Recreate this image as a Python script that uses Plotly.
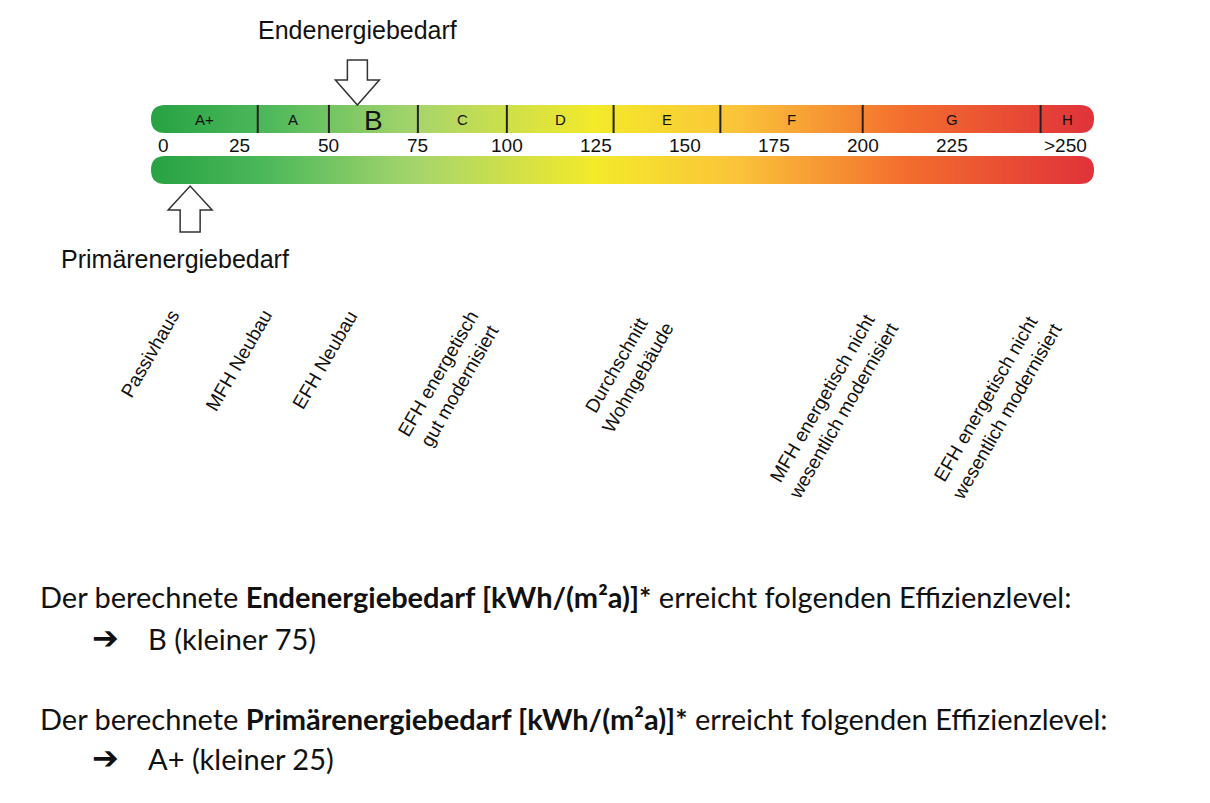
import plotly.graph_objs as go

# Effizienzklassen (Grenzen in kWh/(m²a))
klassen = ['A+', 'A', 'B', 'C', 'D', 'E', 'F', 'G', 'H']
grenzen = [0, 30, 50, 75, 100, 130, 160, 200, 250, 265]

tick_werte = [0, 25, 50, 75, 100, 125, 150, 175, 200, 225, 250]
tick_texte = ['0', '25', '50', '75', '100', '125', '150', '175', '200', '225', '>250']

gebaeude = ['Passivhaus', 'MFH Neubau', 'EFH Neubau', 'EFH energetisch<br>gut modernisiert',
            'Durchschnitt<br>Wohngebäude', 'MFH energetisch nicht<br>wesentlich modernisiert',
            'EFH energetisch nicht<br>wesentlich modernisiert']
gebaeude_x = [10, 36, 60, 100, 149, 212, 258]

endenergie = 58
primaerenergie = 11

W, H = 1210, 803
X0, X1 = 143, 1086
PX = (X1 - X0) / 265.0

farbskala = [[0.0, '#27a243'], [0.12, '#4cb85a'], [0.28, '#a6d46c'], [0.47, '#f3ea2a'],
             [0.62, '#fbc43a'], [0.8, '#f36d2e'], [1.0, '#e0323a']]

xs = [i * 0.5 for i in range(0, 531)]
balken = [(97, 125), (148, 176)]

fig = go.Figure()
for y0, y1 in balken:
    fig.add_trace(go.Heatmap(x=xs, y=[y0, y1], z=[xs], colorscale=farbskala,
                             zmin=0, zmax=265, showscale=False, hoverinfo='skip'))

shapes = []
r = 14
rx = r / PX
for y0, y1 in balken:
    a, b = 0, 265
    for xa, xb in [(a, a + rx), (b, b - rx)]:
        shapes += [
            dict(type='path', xref='x', yref='y', fillcolor='white', line_width=0, layer='above',
                 path=f'M {xa},{y0} L {xb},{y0} Q {xa},{y0} {xa},{y0+r} Z'),
            dict(type='path', xref='x', yref='y', fillcolor='white', line_width=0, layer='above',
                 path=f'M {xa},{y1} L {xb},{y1} Q {xa},{y1} {xa},{y1-r} Z'),
        ]

for g in grenzen[1:-1]:
    shapes.append(dict(type='line', xref='x', yref='y', x0=g, x1=g, y0=97, y1=125,
                       line=dict(color='#222', width=2)))

def pfeil(xc, spitze, kopf, ende):
    s = 10 / PX
    k = 22 / PX
    return (f'M {xc-s},{ende} L {xc-s},{kopf} L {xc-k},{kopf} L {xc},{spitze} '
            f'L {xc+k},{kopf} L {xc+s},{kopf} L {xc+s},{ende} Z')

shapes.append(dict(type='path', xref='x', yref='y', fillcolor='white', layer='above',
                   line=dict(color='#333', width=1.5), path=pfeil(endenergie, 97, 72, 52)))
shapes.append(dict(type='path', xref='x', yref='y', fillcolor='white', layer='above',
                   line=dict(color='#333', width=1.5), path=pfeil(primaerenergie, 178, 202, 224)))

ann = []
for i, k in enumerate(klassen):
    mitte = (grenzen[i] + grenzen[i + 1]) / 2
    gross = k == 'B'
    ann.append(dict(x=mitte, y=112 if gross else 111, text=k, showarrow=False,
                    font=dict(family='Liberation Sans', size=28 if gross else 15, color='#111')))

for w, t in zip(tick_werte, tick_texte):
    xa = 'center'
    if t == '0':
        xa = 'left'
        w = 1.5
    if t == '>250':
        w = 257
    ann.append(dict(x=w, y=137, text=t, showarrow=False, xanchor=xa,
                    font=dict(family='Liberation Sans', size=19, color='#111')))

ann.append(dict(x=endenergie, y=22, text='Endenergiebedarf', showarrow=False,
                font=dict(family='Liberation Sans', size=25, color='#111')))
ann.append(dict(x=primaerenergie, y=251, text='Primärenergiebedarf', showarrow=False,
                xanchor='left', xshift=-(primaerenergie * PX) - 92,
                font=dict(family='Liberation Sans', size=25, color='#111')))

for t, x in zip(gebaeude, gebaeude_x):
    ann.append(dict(x=x, y=296, text=t, showarrow=False, textangle=-60,
                    xanchor='right', yanchor='top', align='center',
                    font=dict(family='Liberation Sans', size=19, color='#111')))

schrift = dict(family='Lato', size=29, color='#111')
zeilen = [
    (30, 588, 'Der berechnete <b>Endenergiebedarf [kWh/(m²a)]*</b> erreicht folgenden Effizienzlevel:'),
    (30, 710, 'Der berechnete <b>Primärenergiebedarf [kWh/(m²a)]*</b> erreicht folgenden Effizienzlevel:'),
    (138, 630, 'B (kleiner 75)'),
    (138, 750, 'A+ (kleiner 25)'),
]
for px, py, t in zeilen:
    ann.append(dict(xref='paper', x=(px - X0) / (X1 - X0), y=py, text=t, showarrow=False,
                    xanchor='left', font=schrift))
for py in [630, 750]:
    ann.append(dict(xref='paper', x=(82 - X0) / (X1 - X0), y=py, text='<b>➔</b>', showarrow=False,
                    xanchor='left', font=dict(family='DejaVu Sans', size=32, color='#111')))

fig.update_layout(
    width=W, height=H,
    margin=dict(l=X0, r=W - X1, t=0, b=0),
    paper_bgcolor='white', plot_bgcolor='white',
    xaxis=dict(range=[0, 265], visible=False, fixedrange=True),
    yaxis=dict(range=[H, 0], visible=False, fixedrange=True),
    shapes=shapes, annotations=ann, showlegend=False,
)

fig.write_html('out.html')
